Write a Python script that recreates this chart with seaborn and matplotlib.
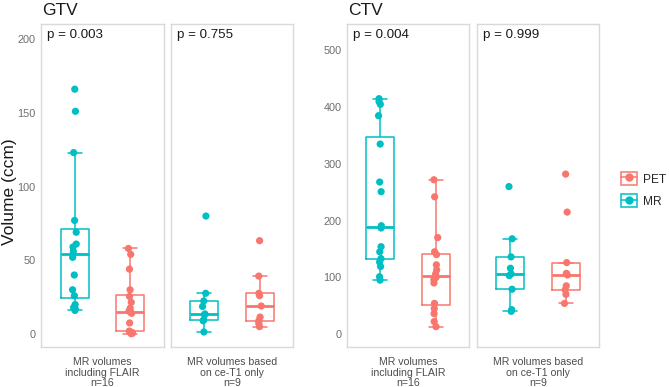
import numpy as np
import pandas as pd
import matplotlib
matplotlib.use('Agg')
import matplotlib.pyplot as plt
import seaborn as sns
from matplotlib.patches import Rectangle
from matplotlib.lines import Line2D
from matplotlib.legend_handler import HandlerTuple

# volumes (ccm)
gtv_flair_mr = [166, 151, 123, 77, 69, 61, 59, 56, 52, 40, 30, 26, 20, 18, 17, 16]
gtv_flair_pet = [58, 54, 44, 30, 25.5, 21.5, 17.5, 15.5, 14.8, 14, 7.5, 2, 1.5, 1, 0.5, 0.2]
gtv_t1_mr = [80, 27.6, 22.4, 18.7, 13.6, 13, 9.5, 9, 1.4]
gtv_t1_pet = [63.3, 39.3, 27.6, 26, 19, 11.5, 9, 7.2, 5]
ctv_flair_mr = [415, 410, 405, 385, 335, 268, 251, 191, 187, 154, 145, 133, 127, 119, 101, 95]
ctv_flair_pet = [272, 242, 170, 145, 140, 122, 113, 106, 100, 96, 90, 54, 45, 36, 22, 13]
ctv_t1_mr = [260, 168, 136, 116, 106, 103, 79, 43, 40]
ctv_t1_pet = [282, 215, 126, 107, 104, 85, 78, 70, 54]

cohorts = ['MR volumes\nincluding FLAIR\nn=16', 'MR volumes based\non ce-T1 only\nn=9']
p_values = {'GTV': ['p = 0.003', 'p = 0.755'], 'CTV': ['p = 0.004', 'p = 0.999']}
gtv_ticks = [0, 50, 100, 150, 200]
ctv_ticks = [0, 100, 200, 300, 400, 500]

PET = '#F8766D'
MR = '#00BFC4'
pal = {'MR': MR, 'PET': PET}


def long_df(target, cohort, mr, pet):
    rows = [(target, cohort, 'MR', v) for v in mr] + [(target, cohort, 'PET', v) for v in pet]
    return pd.DataFrame(rows, columns=['target', 'cohort', 'modality', 'vol'])


df = pd.concat([
    long_df('GTV', cohorts[0], gtv_flair_mr, gtv_flair_pet),
    long_df('GTV', cohorts[1], gtv_t1_mr, gtv_t1_pet),
    long_df('CTV', cohorts[0], ctv_flair_mr, ctv_flair_pet),
    long_df('CTV', cohorts[1], ctv_t1_mr, ctv_t1_pet),
], ignore_index=True)

sns.set_style('white')
plt.rcParams['font.family'] = ['Liberation Sans', 'DejaVu Sans']
np.random.seed(3)

W, H = 669, 387
fig = plt.figure(figsize=(W / 100, H / 100), dpi=100)


def px_axes(x0, x1, y0, y1):
    return fig.add_axes([x0 / W, 1 - y1 / H, (x1 - x0) / W, (y1 - y0) / H])


panels = {
    'GTV': [(41, 164), (171, 293)],
    'CTV': [(347, 469), (477, 599)],
}
ylims = {'GTV': (-8.8, 210.2), 'CTV': (-22.9, 546.7)}
yticks = {'GTV': gtv_ticks, 'CTV': ctv_ticks}

for target in ['GTV', 'CTV']:
    for i, (x0, x1) in enumerate(panels[target]):
        ax = px_axes(x0, x1, 24, 347)
        sub = df[(df['target'] == target) & (df['cohort'] == cohorts[i])]
        sns.boxplot(data=sub, x='cohort', y='vol', hue='modality', hue_order=['MR', 'PET'],
                    palette=pal, fill=False, width=0.8, gap=0.5, showfliers=False,
                    linewidth=1.1, medianprops={'linewidth': 2.0}, legend=False, ax=ax)
        sns.stripplot(data=sub, x='cohort', y='vol', hue='modality', hue_order=['MR', 'PET'],
                      palette=pal, dodge=True, jitter=0.03, size=5.2, linewidth=0,
                      legend=False, ax=ax)
        ax.set_xlim(-0.44, 0.44)
        ax.set_ylim(*ylims[target])
        ax.set_xticks([0])
        ax.set_xticklabels([cohorts[i]], fontsize=7.6, color='#4D4D4D', linespacing=1.1)
        ax.set_yticks(yticks[target])
        if i == 0:
            ax.set_yticklabels([str(t) for t in yticks[target]], fontsize=7.8, color='#6E6E6E')
        else:
            ax.set_yticklabels([])
        ax.tick_params(axis='y', length=0, pad=4)
        ax.tick_params(axis='x', length=0, pad=7)
        ax.set_xlabel('')
        ax.set_ylabel('')
        for s in ax.spines.values():
            s.set_color('#D9D9D9')
            s.set_linewidth(1.0)
        ax.text(0.05, 0.985, p_values[target][i], transform=ax.transAxes, ha='left', va='top',
                fontsize=9.6, color='#1A1A1A')
        if i == 0:
            fig.text((x0 + 1) / W, 1 - 15 / H, target, fontsize=12.5, ha='left', va='baseline',
                     color='#1A1A1A')

fig.text(9.5 / W, 1 - 192 / H, 'Volume (ccm)', rotation=90, ha='center', va='center',
         fontsize=12.5, color='#1A1A1A')

handles = [
    (Rectangle((0, 0), 1, 1, facecolor='white', edgecolor=c, linewidth=1.1),
     Line2D([], [], color=c, marker='o', markersize=5, linewidth=1.1))
    for c in [PET, MR]
]
fig.legend(handles=handles, labels=['PET', 'MR'],
           handler_map={tuple: HandlerTuple(ndivide=1, pad=0)},
           loc='center left', bbox_to_anchor=(621 / W, 1 - 190 / H), frameon=False,
           fontsize=8.6, handlelength=1.3, handleheight=1.2, labelspacing=0.75,
           handletextpad=0.55, borderpad=0, borderaxespad=0)

fig.savefig('out.png', dpi=100)
